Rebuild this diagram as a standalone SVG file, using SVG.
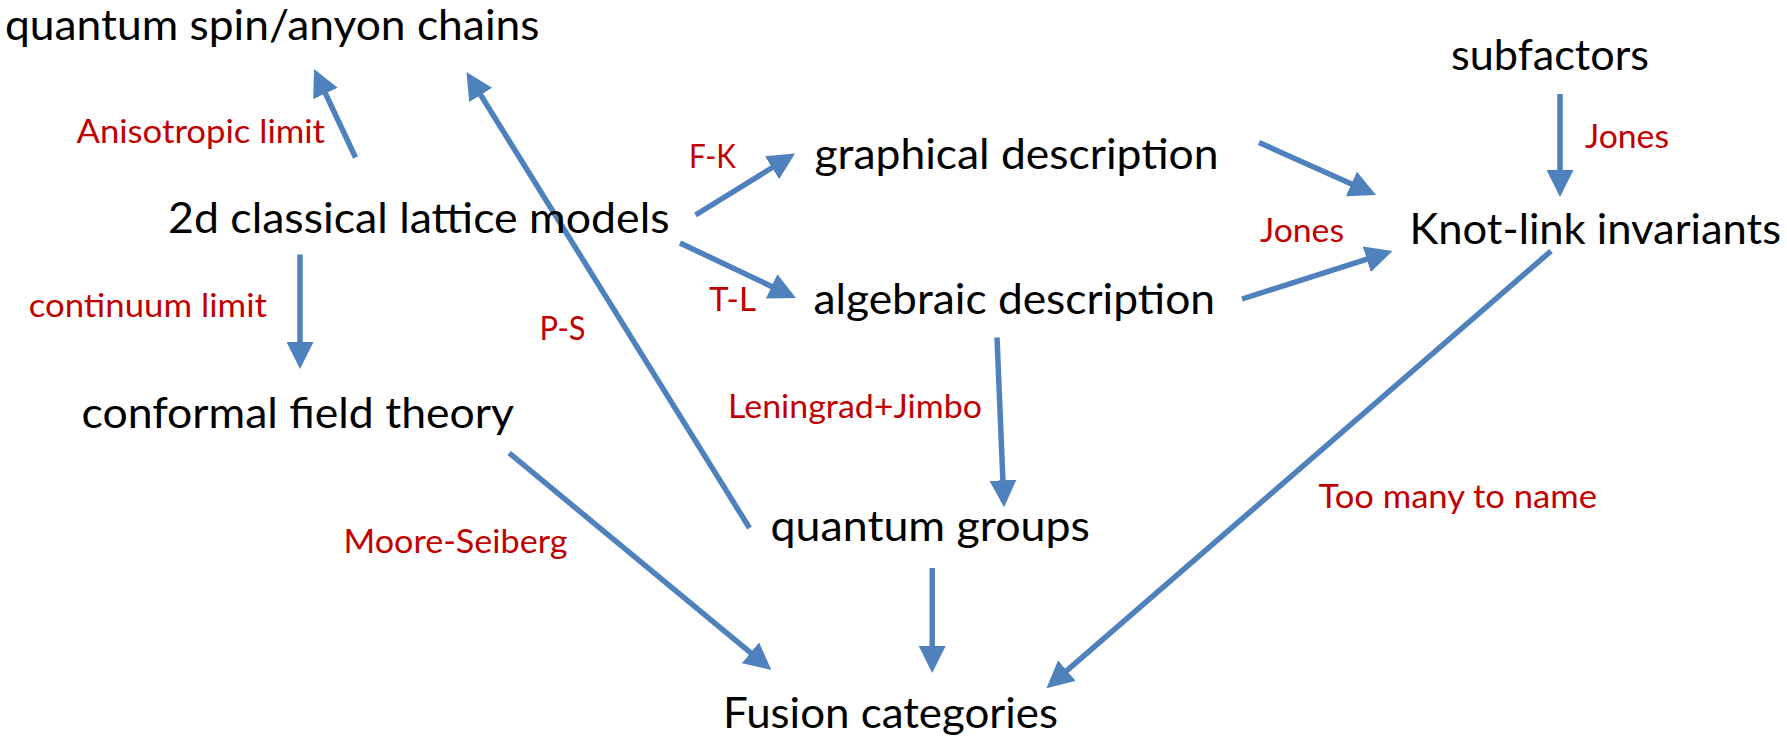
<svg xmlns="http://www.w3.org/2000/svg" width="1787" height="742" viewBox="0 0 1787 742">
<style>
.n{font-family:Lato,"Liberation Sans",sans-serif;font-size:43px;fill:#000}
.l{font-family:Lato,"Liberation Sans",sans-serif;font-size:33.5px;fill:#C00000}
.c{stroke:#4F81BD;stroke-width:5.5;fill:none;marker-end:url(#ah)}
</style>
<defs>
<marker id="ah" viewBox="0 0 27 27" refX="7" refY="13.5" markerUnits="userSpaceOnUse" markerWidth="27" markerHeight="27" orient="auto">
<path d="M0,0 L27,13.5 L0,27 Z" fill="#4F81BD"/>
</marker>
</defs>
<rect width="1787" height="742" fill="#fff"/>
<g id="connectors">
<line class="c" x1="355.5" y1="157.5" x2="322.5" y2="87.1"/>
<line class="c" x1="749.5" y1="528" x2="477" y2="89"/>
<line class="c" x1="695.5" y1="215" x2="778" y2="164"/>
<line class="c" x1="680" y1="243" x2="777.9" y2="289.4"/>
<line class="c" x1="1259" y1="142.5" x2="1357.7" y2="186.8"/>
<line class="c" x1="1242" y1="299" x2="1373.4" y2="257.1"/>
<line class="c" x1="1560" y1="94" x2="1560" y2="177"/>
<line class="c" x1="300" y1="254.5" x2="300" y2="349"/>
<line class="c" x1="997" y1="337.5" x2="1003.2" y2="487.3"/>
<line class="c" x1="509.2" y1="453" x2="755.9" y2="657.2"/>
<line class="c" x1="932.2" y1="568" x2="932.2" y2="653"/>
<line class="c" x1="1551" y1="251" x2="1061.6" y2="675.2"/>
</g>
<g id="edge-labels">
<text class="l" x="76.5" y="143" textLength="248.5" lengthAdjust="spacingAndGlyphs">Anisotropic limit</text>
<text class="l" x="689" y="168" textLength="47" lengthAdjust="spacingAndGlyphs">F-K</text>
<text class="l" x="1585" y="148" textLength="84" lengthAdjust="spacingAndGlyphs">Jones</text>
<text class="l" x="1260" y="242" textLength="84" lengthAdjust="spacingAndGlyphs">Jones</text>
<text class="l" x="28.7" y="316.5" textLength="238.3" lengthAdjust="spacingAndGlyphs">continuum limit</text>
<text class="l" x="709" y="311" textLength="47" lengthAdjust="spacingAndGlyphs">T-L</text>
<text class="l" x="539.6" y="340" textLength="46" lengthAdjust="spacingAndGlyphs">P-S</text>
<text class="l" x="728" y="418" textLength="254" lengthAdjust="spacingAndGlyphs">Leningrad+Jimbo</text>
<text class="l" x="1318.5" y="508" textLength="278.5" lengthAdjust="spacingAndGlyphs">Too many to name</text>
<text class="l" x="343.5" y="552.5" textLength="224" lengthAdjust="spacingAndGlyphs">Moore-Seiberg</text>
</g>
<g id="node-quantum-chains"><text class="n" x="5" y="40" textLength="534.5" lengthAdjust="spacingAndGlyphs">quantum spin/anyon chains</text></g>
<g id="node-subfactors"><text class="n" x="1451" y="70" textLength="198" lengthAdjust="spacingAndGlyphs">subfactors</text></g>
<g id="node-graphical"><text class="n" x="814.5" y="169" textLength="404" lengthAdjust="spacingAndGlyphs">graphical description</text></g>
<g id="node-lattice"><text class="n" x="168" y="232.5" textLength="501.5" lengthAdjust="spacingAndGlyphs">2d classical lattice models</text></g>
<g id="node-knot"><text class="n" x="1409.5" y="243.5" textLength="371.5" lengthAdjust="spacingAndGlyphs">Knot-link invariants</text></g>
<g id="node-algebraic"><text class="n" x="813.5" y="313.5" textLength="401.5" lengthAdjust="spacingAndGlyphs">algebraic description</text></g>
<g id="node-cft"><text class="n" x="81.5" y="428" textLength="432.5" lengthAdjust="spacingAndGlyphs">conformal field theory</text></g>
<g id="node-qgroups"><text class="n" x="770.5" y="541" textLength="319.5" lengthAdjust="spacingAndGlyphs">quantum groups</text></g>
<g id="node-fusion"><text class="n" x="723" y="728" textLength="335" lengthAdjust="spacingAndGlyphs">Fusion categories</text></g>
</svg>
